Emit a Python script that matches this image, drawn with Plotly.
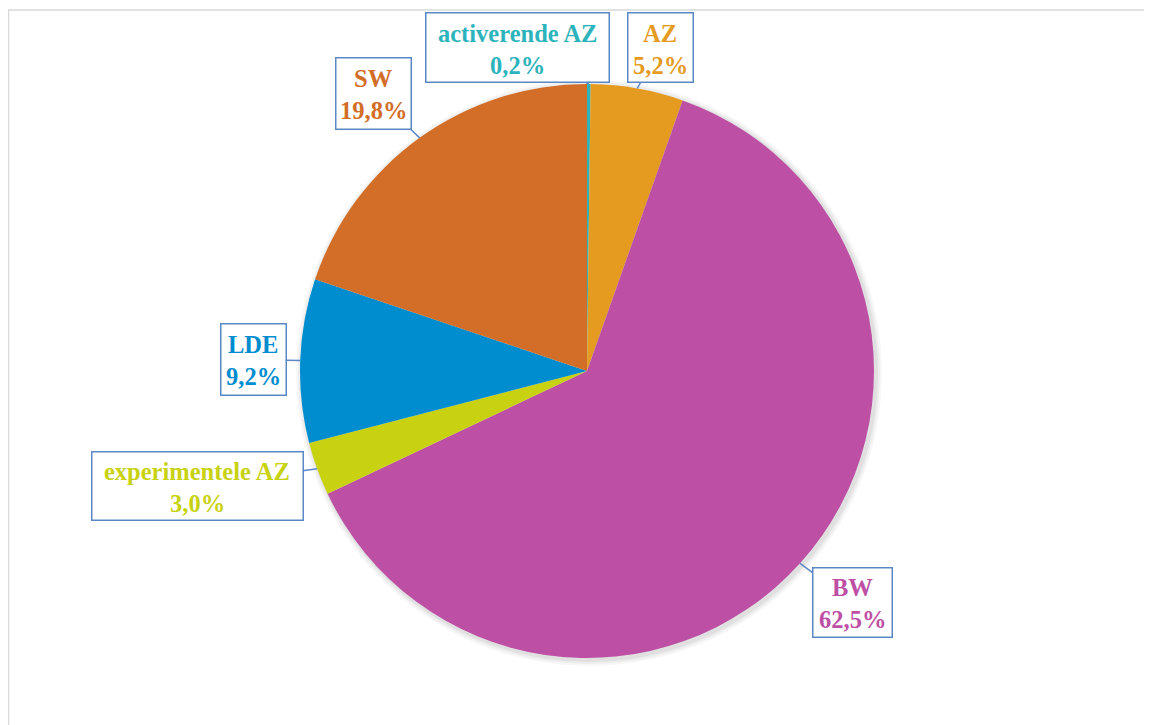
import math
import plotly.graph_objects as go

labels = ["activerende AZ", "AZ", "BW", "experimentele AZ", "LDE", "SW"]
values = [0.2, 5.2, 62.5, 3.0, 9.2, 19.8]
pct_text = ["0,2%", "5,2%", "62,5%", "3,0%", "9,2%", "19,8%"]
colors = ["#2db3bb", "#e59b1f", "#bd50a4", "#c8d211", "#008dcf", "#d26e27"]

# page body has an 8px margin, so work in page pixels shifted by 8
OFF = 8
W, H = 1152 - OFF, 725 - OFF
CX, CY, R = 587 - OFF, 371 - OFF, 287

# label box centres / sizes (reference pixels)
boxes = {
    "activerende AZ": (517, 48, 186, 72),
    "AZ": (660, 48, 68, 72),
    "BW": (852, 602, 82, 72),
    "experimentele AZ": (197, 486, 214, 71),
    "LDE": (253, 359, 68, 74),
    "SW": (373, 93, 78, 74),
}
FONT = "Liberation Serif"
FS = 24.5
BORDER = "#5b87c5"


def dom(cx, cy, r):
    return dict(x=[(cx - r) / W, (cx + r) / W], y=[(H - cy - r) / H, (H - cy + r) / H])


fig = go.Figure()
# soft shadow
for d, a in [(6, 0.03), (4, 0.04), (2, 0.05)]:
    fig.add_trace(go.Pie(
        labels=["s"], values=[1], marker=dict(colors=[f"rgba(0,0,0,{a})"], line=dict(width=0)),
        textinfo="none", showlegend=False, hoverinfo="skip", sort=False,
        domain=dom(CX + 2, CY + 2, R + d),
    ))
fig.add_trace(go.Pie(
    labels=labels, values=values, sort=False, direction="clockwise", rotation=0,
    marker=dict(colors=colors, line=dict(width=0)),
    textinfo="none", showlegend=False,
    domain=dom(CX, CY, R),
))

total = sum(values)
cum = 0
annotations = []
for lab, v, pt, col in zip(labels, values, pct_text, colors):
    mid = (cum + v / 2) / total * 2 * math.pi
    cum += v
    tx = CX + R * math.sin(mid)
    ty = CY - R * math.cos(mid)
    bx, by, bw, bh = boxes[lab]
    bx -= OFF
    by -= OFF
    # callout box with pointer
    annotations.append(dict(
        x=tx / W, y=1 - ty / H, xref="paper", yref="paper",
        ax=bx - tx, ay=by - ty, axref="pixel", ayref="pixel",
        text=" ", showarrow=True, arrowhead=0, arrowwidth=1.5,
        arrowcolor=BORDER, standoff=0, startstandoff=0,
        font=dict(family=FONT, size=FS, color=col),
        bgcolor="white", bordercolor=BORDER, borderwidth=1.5,
        borderpad=0, width=bw - 4, height=bh - 4,
    ))
    # two text lines
    for txt, dy in [(lab, -15), (pt, 17)]:
        annotations.append(dict(
            x=bx / W, y=1 - (by + dy) / H, xref="paper", yref="paper",
            xanchor="center", yanchor="middle", showarrow=False,
            text=f"<b>{txt}</b>", font=dict(family=FONT, size=FS, color=col),
        ))

fig.update_layout(
    width=W, height=H, margin=dict(l=0, r=0, t=0, b=0),
    paper_bgcolor="white", plot_bgcolor="white",
    annotations=annotations,
    shapes=[
        dict(type="line", xref="paper", yref="paper", x0=0, x1=1, y0=1 - 2 / H, y1=1 - 2 / H,
             line=dict(color="#d9d9d9", width=1.5)),
        dict(type="line", xref="paper", yref="paper", x0=0.5 / W, x1=0.5 / W, y0=0, y1=1 - 2 / H,
             line=dict(color="#d9d9d9", width=1.5)),
    ],
)

fig.write_html("out.html")
